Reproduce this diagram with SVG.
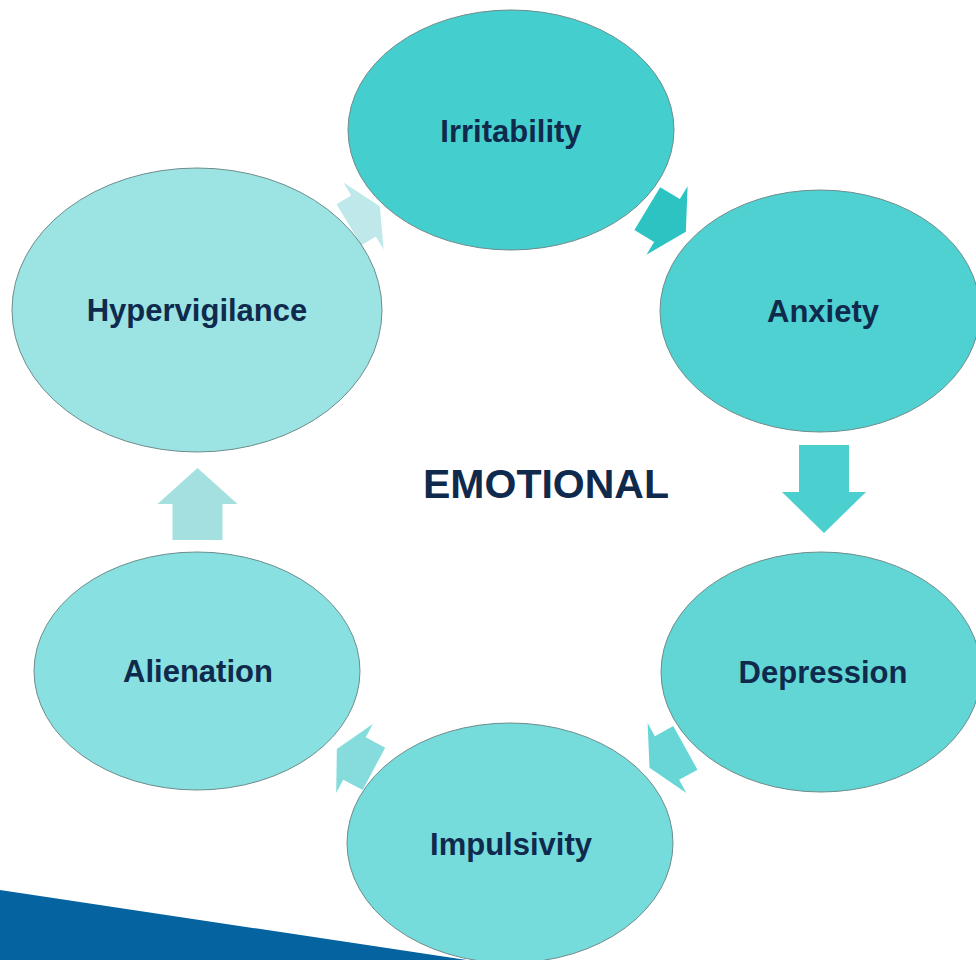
<svg xmlns="http://www.w3.org/2000/svg" width="976" height="960" viewBox="0 0 976 960">
<style>
.node{stroke:#6f8c8c;stroke-width:1}
.lbl{font-family:"Liberation Sans",Arial,sans-serif;font-weight:bold;font-size:31px;fill:#0f2a4c;text-anchor:middle}
.title{font-family:"Liberation Sans",Arial,sans-serif;font-weight:bold;font-size:41px;fill:#0f2a4c;text-anchor:middle}
</style>
<rect width="976" height="960" fill="#ffffff"/>
<polygon points="0,890 480,962 0,962" fill="#0563a0"/>
<g id="connectors">
<path d="M-17,-24 L0,-24 L0,-39 L19,0 L0,39 L0,24 L-17,24 Z" fill="#bee8e9" transform="translate(363.5,216) rotate(-31)"/>
<path d="M-23,-25 L0,-25 L0,-40 L22,0 L0,40 L0,25 L-23,25 Z" fill="#2ec3c3" transform="translate(667,220.5) rotate(31)"/>
<path d="M-47,-25 L0,-25 L0,-42 L41,0 L0,42 L0,25 L-47,25 Z" fill="#4ccfcf" transform="translate(824,492) rotate(90)"/>
<path d="M-21,-25 L0,-25 L0,-40 L20,0 L0,40 L0,25 L-21,25 Z" fill="#68d6d6" transform="translate(667,758) rotate(151)"/>
<path d="M-22,-24 L0,-24 L0,-39 L20,0 L0,39 L0,24 L-22,24 Z" fill="#86dcdc" transform="translate(354.5,758.5) rotate(-152)"/>
<path d="M-36,-25 L0,-25 L0,-40 L36,0 L0,40 L0,25 L-36,25 Z" fill="#a4e0e0" transform="translate(197.5,504) rotate(-90)"/>
</g>
<g id="irritability">
<ellipse class="node" cx="511" cy="130" rx="163" ry="120" fill="#45cece"/>
<text class="lbl" x="511" y="142">Irritability</text>
</g>
<g id="anxiety">
<ellipse class="node" cx="820" cy="311" rx="160" ry="121" fill="#4fd1d1"/>
<text class="lbl" x="823" y="322">Anxiety</text>
</g>
<g id="depression">
<ellipse class="node" cx="821" cy="672" rx="160" ry="120" fill="#62d5d5"/>
<text class="lbl" x="823" y="683">Depression</text>
</g>
<g id="impulsivity">
<ellipse class="node" cx="510" cy="843" rx="163" ry="120" fill="#75dbdb"/>
<text class="lbl" x="511" y="855">Impulsivity</text>
</g>
<g id="alienation">
<ellipse class="node" cx="197" cy="671" rx="163" ry="119" fill="#88e0e0"/>
<text class="lbl" x="198" y="682">Alienation</text>
</g>
<g id="hypervigilance">
<ellipse class="node" cx="197" cy="310" rx="185" ry="142" fill="#9ce4e4"/>
<text class="lbl" x="197" y="321">Hypervigilance</text>
</g>
<g id="emotional">
<text class="title" x="546" y="498">EMOTIONAL</text>
</g>
</svg>
